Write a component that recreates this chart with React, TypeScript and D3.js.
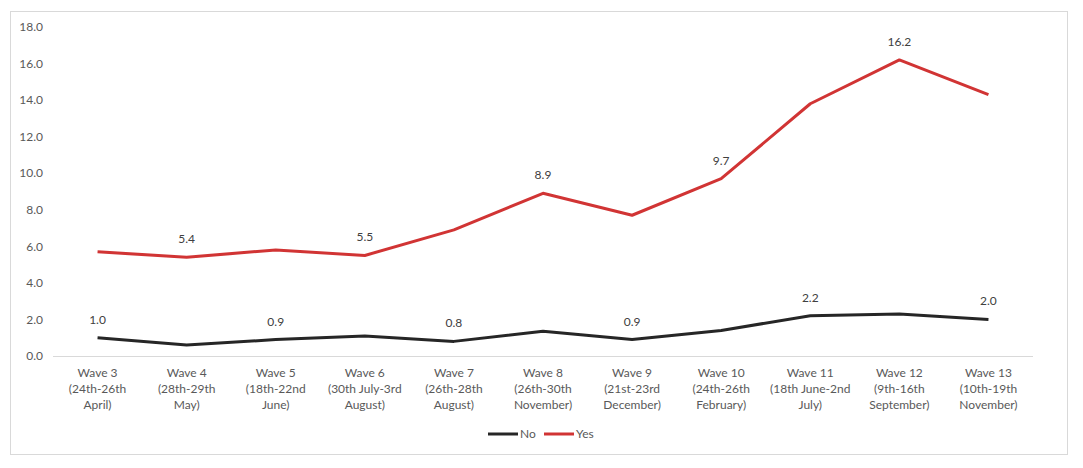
import React, { useEffect, useRef } from "react";
import * as d3 from "d3";

const categories = [
  ["Wave 3", "(24th-26th", "April)"],
  ["Wave 4", "(28th-29th", "May)"],
  ["Wave 5", "(18th-22nd", "June)"],
  ["Wave 6", "(30th July-3rd", "August)"],
  ["Wave 7", "(26th-28th", "August)"],
  ["Wave 8", "(26th-30th", "November)"],
  ["Wave 9", "(21st-23rd", "December)"],
  ["Wave 10", "(24th-26th", "February)"],
  ["Wave 11", "(18th June-2nd", "July)"],
  ["Wave 12", "(9th-16th", "September)"],
  ["Wave 13", "(10th-19th", "November)"],
];
const noValues = [1.0, 0.6, 0.9, 1.1, 0.8, 1.35, 0.9, 1.4, 2.2, 2.3, 2.0];
const yesValues = [5.7, 5.4, 5.8, 5.5, 6.9, 8.9, 7.7, 9.7, 13.8, 16.2, 14.3];
// which points carry a data label
const noLabelIdx = [0, 2, 4, 6, 8, 10];
const yesLabelIdx = [1, 3, 5, 7, 9];
const yTicks = [0, 2, 4, 6, 8, 10, 12, 14, 16, 18];

const W = 1083;
const H = 468;
const FONT = "Lato, 'Open Sans', sans-serif";
const TEXT = "#595959";

export default function App() {
  const ref = useRef<SVGSVGElement>(null);

  useEffect(() => {
    const svg = d3.select(ref.current);
    svg.selectAll("*").remove();

    // outer chart frame
    svg
      .append("rect")
      .attr("x", 10.5)
      .attr("y", 11.5)
      .attr("width", 1057)
      .attr("height", 443)
      .attr("fill", "#fff")
      .attr("stroke", "#d9d9d9");

    const x: any = d3
      .scaleBand()
      .domain(categories.map((c) => c[0]))
      .range([53, 1033]);
    const y = d3.scaleLinear().domain([0, 18]).range([356, 27]);
    const cx = (i: number) => x(categories[i][0]) + x.bandwidth() / 2;

    // y tick labels
    svg
      .append("g")
      .selectAll("text")
      .data(yTicks)
      .enter()
      .append("text")
      .attr("x", 43)
      .attr("y", (d) => y(d))
      .attr("dy", "0.35em")
      .attr("text-anchor", "end")
      .attr("font-family", FONT)
      .attr("font-size", 12)
      .attr("fill", TEXT)
      .text((d) => d3.format(".1f")(d));

    // baseline
    svg
      .append("line")
      .attr("x1", 53)
      .attr("x2", 1033)
      .attr("y1", y(0) + 0.5)
      .attr("y2", y(0) + 0.5)
      .attr("stroke", "#d9d9d9");

    // x labels, three lines each
    const xl = svg
      .append("g")
      .selectAll("text")
      .data(categories)
      .enter()
      .append("text")
      .attr("text-anchor", "middle")
      .attr("font-family", FONT)
      .attr("font-size", 12)
      .attr("fill", TEXT);
    xl.each(function (d: any, i: number) {
      const t = d3.select(this);
      d.forEach((line: string, k: number) => {
        t.append("tspan")
          .attr("x", cx(i))
          .attr("y", 377 + k * 16)
          .text(line);
      });
    });

    const line = d3
      .line<number>()
      .x((_, i) => cx(i))
      .y((d) => y(d));

    const series = [
      { name: "No", values: noValues, color: "#262626", labels: noLabelIdx },
      { name: "Yes", values: yesValues, color: "#d13434", labels: yesLabelIdx },
    ];

    series.forEach((s) => {
      svg
        .append("path")
        .datum(s.values)
        .attr("d", line)
        .attr("fill", "none")
        .attr("stroke", s.color)
        .attr("stroke-width", 3)
        .attr("stroke-linejoin", "round");

      svg
        .append("g")
        .selectAll("text")
        .data(s.labels)
        .enter()
        .append("text")
        .attr("x", (i) => cx(i))
        .attr("y", (i) => y(s.values[i]) - 14)
        .attr("text-anchor", "middle")
        .attr("font-family", FONT)
        .attr("font-size", 12)
        .attr("fill", "#404040")
        .text((i) => d3.format(".1f")(s.values[i]));
    });

    // legend
    const legendX = [488, 544];
    series.forEach((s, i) => {
      const g = svg.append("g").attr("transform", `translate(${legendX[i]},434)`);
      g.append("line")
        .attr("x1", 0)
        .attr("x2", 30)
        .attr("stroke", s.color)
        .attr("stroke-width", 3);
      g.append("text")
        .attr("x", 32)
        .attr("dy", "0.35em")
        .attr("font-family", FONT)
        .attr("font-size", 12)
        .attr("fill", TEXT)
        .text(s.name);
    });
  }, []);

  return (
    <svg
      ref={ref}
      width={W}
      height={H}
      style={{ position: "absolute", left: 0, top: 0, background: "#fff" }}
    />
  );
}
